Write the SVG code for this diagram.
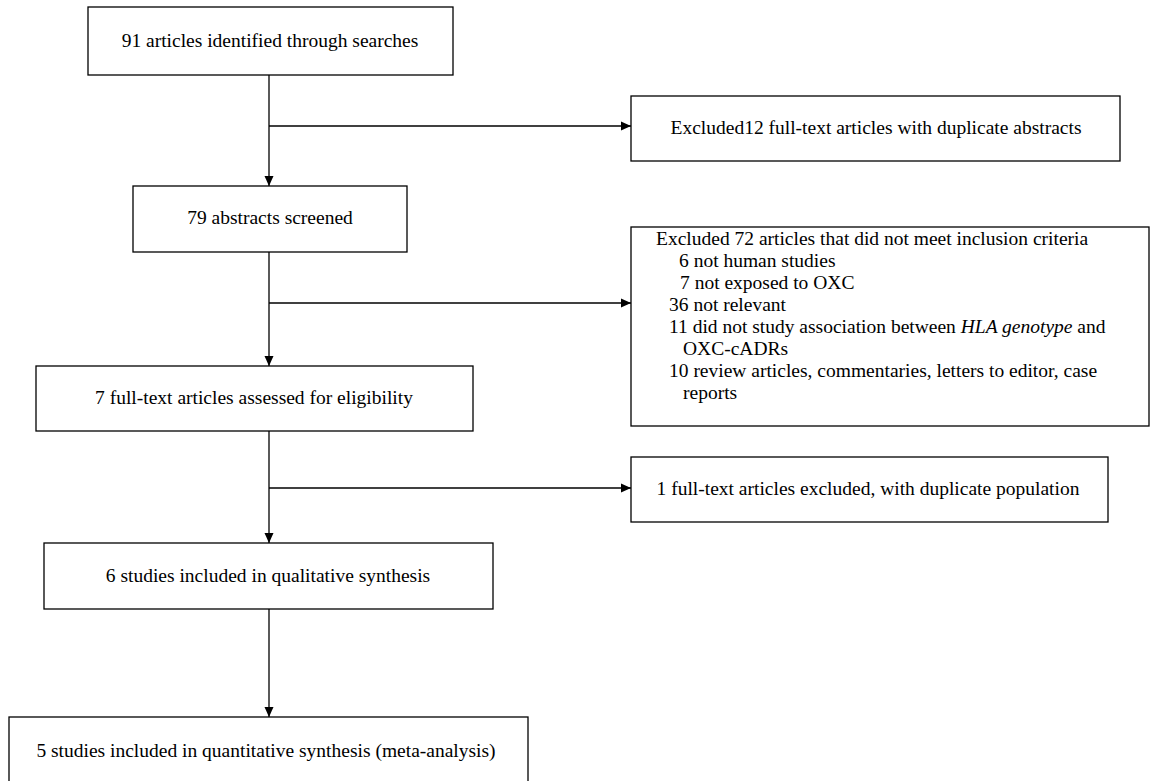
<svg xmlns="http://www.w3.org/2000/svg" width="1151" height="781" viewBox="0 0 1151 781">
<defs>
<style>
.box{fill:#fff;stroke:#000;stroke-width:1.3}
text{font-family:'Liberation Serif','DejaVu Serif',serif;font-size:19.5px;fill:#000}
.c{text-anchor:middle}
.ln{stroke:#000;stroke-width:1.3;fill:none}
</style>
<marker id="ah" viewBox="0 0 10 10" refX="10" refY="5" markerWidth="10" markerHeight="10" markerUnits="userSpaceOnUse" orient="auto">
<path d="M0,0.5 L10,5 L0,9.5 Z" fill="#000"/>
</marker>
</defs>
<rect width="1151" height="781" fill="#fff"/>
<g id="connectors">
<line class="ln" x1="269" y1="75" x2="269" y2="186" marker-end="url(#ah)"/>
<line class="ln" x1="269" y1="126" x2="631" y2="126" marker-end="url(#ah)"/>
<line class="ln" x1="269" y1="252" x2="269" y2="366" marker-end="url(#ah)"/>
<line class="ln" x1="269" y1="303" x2="631" y2="303" marker-end="url(#ah)"/>
<line class="ln" x1="269" y1="431" x2="269" y2="543" marker-end="url(#ah)"/>
<line class="ln" x1="269" y1="488" x2="631" y2="488" marker-end="url(#ah)"/>
<line class="ln" x1="269" y1="609" x2="269" y2="717" marker-end="url(#ah)"/>
</g>
<g id="n1">
<rect class="box" x="88" y="7" width="365" height="68"/>
<text class="c" x="270" y="47">91 articles identified through searches</text>
</g>
<g id="n2">
<rect class="box" x="631" y="96" width="489" height="65"/>
<text class="c" x="876" y="134">Excluded12 full-text articles with duplicate abstracts</text>
</g>
<g id="n3">
<rect class="box" x="133" y="186" width="274" height="66"/>
<text class="c" x="270" y="224">79 abstracts screened</text>
</g>
<g id="n4">
<rect class="box" x="631" y="227" width="518" height="199"/>
<text x="656" y="245">Excluded 72 articles that did not meet inclusion criteria</text>
<text x="679" y="267">6 not human studies</text>
<text x="680" y="289">7 not exposed to OXC</text>
<text x="669" y="311">36 not relevant</text>
<text x="669" y="333">11 did not study association between <tspan font-style="italic">HLA genotype</tspan> and</text>
<text x="683" y="355">OXC-cADRs</text>
<text x="669" y="377">10 review articles, commentaries, letters to editor, case</text>
<text x="683" y="399">reports</text>
</g>
<g id="n5">
<rect class="box" x="36" y="366" width="437" height="65"/>
<text class="c" x="254" y="404">7 full-text articles assessed for eligibility</text>
</g>
<g id="n6">
<rect class="box" x="631" y="457" width="477" height="65"/>
<text class="c" x="868" y="495">1 full-text articles excluded, with duplicate population</text>
</g>
<g id="n7">
<rect class="box" x="44" y="543" width="449" height="66"/>
<text class="c" x="268" y="582">6 studies included in qualitative synthesis</text>
</g>
<g id="n8">
<rect class="box" x="9" y="717" width="519" height="70"/>
<text class="c" x="266" y="757">5 studies included in quantitative synthesis (meta-analysis)</text>
</g>
</svg>
